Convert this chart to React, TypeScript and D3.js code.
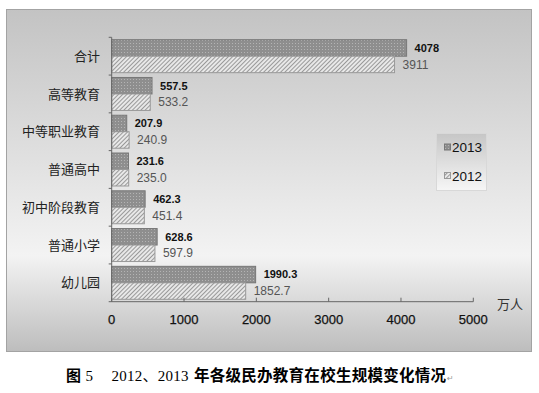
import { useEffect, useRef } from "react";
import * as d3 from "d3";

const categories = ["合计", "高等教育", "中等职业教育", "普通高中", "初中阶段教育", "普通小学", "幼儿园"];
const values2013 = [4078, 557.5, 207.9, 231.6, 462.3, 628.6, 1990.3];
const values2012 = [3911, 533.2, 240.9, 235.0, 451.4, 597.9, 1852.7];
const labels2013 = ["4078", "557.5", "207.9", "231.6", "462.3", "628.6", "1990.3"];
const labels2012 = ["3911", "533.2", "240.9", "235.0", "451.4", "597.9", "1852.7"];
const xTicks = [0, 1000, 2000, 3000, 4000, 5000];
const seriesNames = ["2013", "2012"];

const width = 539;
const height = 393;
const numFont = "'Liberation Sans', Arial, sans-serif";
const cjkFont = "'Noto Sans CJK SC', 'Noto Sans', sans-serif";

const App = () => {
  const svgRef = useRef<SVGSVGElement>(null);

  useEffect(() => {
    const svg = d3.select(svgRef.current);
    svg.selectAll("*").remove();

    const defs = svg.append("defs");

    // panel background gradient
    const bg = defs
      .append("linearGradient")
      .attr("id", "panelBg")
      .attr("x1", 0)
      .attr("y1", 0)
      .attr("x2", 0)
      .attr("y2", 1);
    bg.append("stop").attr("offset", "0").attr("stop-color", "#c3c3c3");
    bg.append("stop").attr("offset", "0.72").attr("stop-color", "#f3f3f3");
    bg.append("stop").attr("offset", "1").attr("stop-color", "#bdbdbd");

    const legBg = defs
      .append("linearGradient")
      .attr("id", "legendBg")
      .attr("x1", 0)
      .attr("y1", 0)
      .attr("x2", 0)
      .attr("y2", 1);
    legBg.append("stop").attr("offset", "0").attr("stop-color", "#c6c6c6");
    legBg.append("stop").attr("offset", "1").attr("stop-color", "#f6f6f6");

    // dotted pattern for 2013
    const dots = defs
      .append("pattern")
      .attr("id", "dots")
      .attr("patternUnits", "userSpaceOnUse")
      .attr("width", 3)
      .attr("height", 3);
    dots.append("rect").attr("width", 3).attr("height", 3).attr("fill", "#8e8e8e");
    dots.append("rect").attr("x", 1).attr("y", 1).attr("width", 1).attr("height", 1).attr("fill", "#b4b4b4");

    // diagonal hatch for 2012
    const hatch = defs
      .append("pattern")
      .attr("id", "hatch")
      .attr("patternUnits", "userSpaceOnUse")
      .attr("width", 3)
      .attr("height", 3)
      .attr("patternTransform", "rotate(45)");
    hatch.append("rect").attr("width", 3).attr("height", 3).attr("fill", "#e8e8e8");
    hatch.append("rect").attr("width", 1).attr("height", 3).attr("fill", "#999");

    // panel
    svg
      .append("rect")
      .attr("x", 6.5)
      .attr("y", 9.5)
      .attr("width", 525)
      .attr("height", 342)
      .attr("fill", "url(#panelBg)")
      .attr("stroke", "#a3a3a3");

    const x = d3.scaleLinear().domain([0, 5000]).range([111.7, 473.3]);
    const y = d3
      .scaleBand()
      .domain(categories)
      .range([37.3, 301.7])
      .paddingInner(0.127)
      .paddingOuter(0.0635);
    const ySub = d3.scaleBand().domain(seriesNames).range([0, y.bandwidth()]);

    const g = svg.append("g");

    // bars
    categories.forEach((c, i) => {
      const y0 = y(c) as number;
      g.append("rect")
        .attr("x", x(0))
        .attr("y", y0 + (ySub("2013") as number))
        .attr("width", x(values2013[i]) - x(0))
        .attr("height", ySub.bandwidth())
        .attr("fill", "url(#dots)")
        .attr("stroke", "#777");
      g.append("rect")
        .attr("x", x(0))
        .attr("y", y0 + (ySub("2012") as number))
        .attr("width", x(values2012[i]) - x(0))
        .attr("height", ySub.bandwidth())
        .attr("fill", "url(#hatch)")
        .attr("stroke", "#999");

      g.append("text")
        .attr("x", x(values2013[i]) + 8)
        .attr("y", y0 + (ySub("2013") as number) + ySub.bandwidth() / 2)
        .attr("dy", "0.35em")
        .attr("font-family", numFont)
        .attr("font-size", 11)
        .attr("font-weight", "bold")
        .attr("fill", "#111")
        .text(labels2013[i]);
      g.append("text")
        .attr("x", x(values2012[i]) + 8)
        .attr("y", y0 + (ySub("2012") as number) + ySub.bandwidth() / 2)
        .attr("dy", "0.35em")
        .attr("font-family", numFont)
        .attr("font-size", 12)
        .attr("fill", "#555")
        .text(labels2012[i]);

      // category label
      g.append("text")
        .attr("x", 100)
        .attr("y", y0 + y.bandwidth() / 2)
        .attr("dy", "0.35em")
        .attr("text-anchor", "end")
        .attr("font-family", cjkFont)
        .attr("font-size", 13)
        .attr("fill", "#222")
        .text(c);
    });

    // y axis: line plus band-boundary ticks pointing left
    const yEdges = categories.map((c) => (y(c) as number) - (y.step() * y.paddingInner()) / 2);
    yEdges.push(y.range()[1]);
    g.append("line")
      .attr("x1", x(0))
      .attr("x2", x(0))
      .attr("y1", y.range()[0])
      .attr("y2", y.range()[1])
      .attr("stroke", "#666");
    g.selectAll("line.ytick")
      .data(yEdges)
      .join("line")
      .attr("class", "ytick")
      .attr("x1", x(0) - 3)
      .attr("x2", x(0))
      .attr("y1", (d) => d)
      .attr("y2", (d) => d)
      .attr("stroke", "#666");

    // x axis
    const axisY = y.range()[1];
    g.append("line")
      .attr("x1", x(0))
      .attr("x2", x(5000))
      .attr("y1", axisY)
      .attr("y2", axisY)
      .attr("stroke", "#666");
    g.selectAll("line.xtick")
      .data(xTicks)
      .join("line")
      .attr("class", "xtick")
      .attr("x1", (d) => x(d))
      .attr("x2", (d) => x(d))
      .attr("y1", axisY - 4)
      .attr("y2", axisY)
      .attr("stroke", "#666");
    g.selectAll("text.xlabel")
      .data(xTicks)
      .join("text")
      .attr("class", "xlabel")
      .attr("x", (d) => x(d))
      .attr("y", 319)
      .attr("dy", "0.35em")
      .attr("text-anchor", "middle")
      .attr("font-family", numFont)
      .attr("font-size", 13)
      .attr("fill", "#111")
      .attr("stroke", "#111")
      .attr("stroke-width", 0.25)
      .text((d) => String(d));

    g.append("text")
      .attr("x", 497)
      .attr("y", 304)
      .attr("dy", "0.35em")
      .attr("font-family", cjkFont)
      .attr("font-size", 13)
      .attr("fill", "#333")
      .text("万人");

    // legend
    const leg = svg.append("g");
    leg
      .append("rect")
      .attr("x", 436.5)
      .attr("y", 133.5)
      .attr("width", 50)
      .attr("height", 57)
      .attr("fill", "url(#legendBg)")
      .attr("stroke", "#d8d8d8");
    seriesNames.forEach((s, i) => {
      const cy = 147.5 + i * 28.5;
      leg
        .append("rect")
        .attr("x", 444.5)
        .attr("y", cy - 3.5)
        .attr("width", 6)
        .attr("height", 6)
        .attr("fill", s === "2013" ? "url(#dots)" : "url(#hatch)")
        .attr("stroke", s === "2013" ? "#777" : "#999");
      leg
        .append("text")
        .attr("x", 452)
        .attr("y", cy)
        .attr("dy", "0.35em")
        .attr("font-family", numFont)
        .attr("font-size", 13.5)
        .attr("fill", "#111")
        .text(s);
    });

    // caption
    const cap = svg.append("g").attr("fill", "#000");
    cap
      .append("text")
      .attr("x", 66)
      .attr("y", 376)
      .attr("dy", "0.35em")
      .attr("font-family", cjkFont)
      .attr("font-weight", "bold")
      .attr("font-size", 15)
      .text("图");
    cap
      .append("text")
      .attr("x", 85.5)
      .attr("y", 376)
      .attr("dy", "0.35em")
      .attr("font-family", "'Liberation Serif', serif")
      .attr("font-size", 15)
      .text("5");
    cap
      .append("text")
      .attr("x", 111.5)
      .attr("y", 376)
      .attr("dy", "0.35em")
      .attr("font-family", "'Liberation Serif', 'Noto Sans CJK SC', serif")
      .attr("font-size", 15)
      .attr("textLength", 77)
      .attr("lengthAdjust", "spacing")
      .text("2012、2013");
    cap
      .append("text")
      .attr("x", 194)
      .attr("y", 376)
      .attr("dy", "0.35em")
      .attr("font-family", cjkFont)
      .attr("font-weight", "bold")
      .attr("font-size", 15.5)
      .attr("textLength", 252)
      .attr("lengthAdjust", "spacing")
      .text("年各级民办教育在校生规模变化情况");
    cap
      .append("text")
      .attr("x", 447)
      .attr("y", 378)
      .attr("dy", "0.35em")
      .attr("font-family", "'DejaVu Sans', sans-serif")
      .attr("font-size", 8)
      .attr("fill", "#999")
      .text("↵");
  }, []);

  return (
    <svg
      ref={svgRef}
      width={width}
      height={height}
      style={{ position: "absolute", left: 0, top: 0, background: "#fff" }}
    />
  );
};

export default App;
